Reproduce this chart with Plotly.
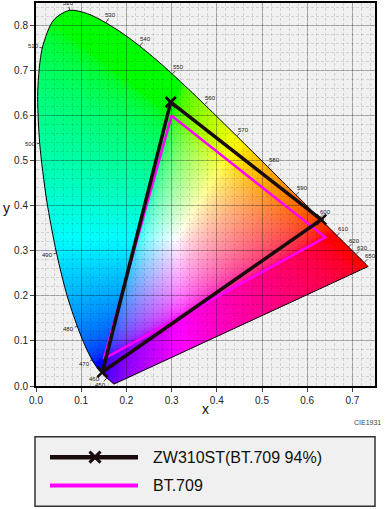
import numpy as np
import plotly.graph_objects as go
import zlib, struct, base64

# ---------------- data ----------------
wavelengths = list(range(380, 705, 5))
locus_x = [0.1741, 0.1740, 0.1738, 0.1736, 0.1733, 0.1730, 0.1726, 0.1721, 0.1714, 0.1703,
           0.1689, 0.1669, 0.1644, 0.1611, 0.1566, 0.1510, 0.1440, 0.1355, 0.1241, 0.1096,
           0.0913, 0.0687, 0.0454, 0.0235, 0.0082, 0.0039, 0.0139, 0.0389, 0.0743, 0.1142,
           0.1547, 0.1929, 0.2296, 0.2658, 0.3016, 0.3373, 0.3731, 0.4087, 0.4441, 0.4788,
           0.5125, 0.5448, 0.5752, 0.6029, 0.6270, 0.6482, 0.6658, 0.6801, 0.6915, 0.7006,
           0.7079, 0.7140, 0.7190, 0.7230, 0.7260, 0.7283, 0.7300, 0.7311, 0.7320, 0.7327,
           0.7334, 0.7340, 0.7344, 0.7346, 0.7347]
locus_y = [0.0050, 0.0050, 0.0049, 0.0049, 0.0048, 0.0048, 0.0048, 0.0048, 0.0051, 0.0058,
           0.0069, 0.0086, 0.0109, 0.0138, 0.0177, 0.0227, 0.0297, 0.0399, 0.0578, 0.0868,
           0.1327, 0.2007, 0.2950, 0.4127, 0.5384, 0.6548, 0.7502, 0.8120, 0.8338, 0.8262,
           0.8059, 0.7816, 0.7543, 0.7243, 0.6923, 0.6589, 0.6245, 0.5896, 0.5547, 0.5202,
           0.4866, 0.4544, 0.4242, 0.3965, 0.3725, 0.3514, 0.3340, 0.3197, 0.3083, 0.2993,
           0.2920, 0.2859, 0.2809, 0.2770, 0.2740, 0.2717, 0.2700, 0.2689, 0.2680, 0.2673,
           0.2666, 0.2660, 0.2656, 0.2654, 0.2653]
label_wavelengths = [450, 460, 470, 480, 490, 500, 510, 520, 530, 540, 550,
                     560, 570, 580, 590, 600, 610, 620, 630, 650]

series_names = ["ZW310ST(BT.709 94%)", "BT.709"]
series_colors = ["#1a0c0c", "#ff00ff"]
zw_x = [0.298, 0.631, 0.147]
zw_y = [0.630, 0.369, 0.031]
bt_x = [0.30, 0.64, 0.15]
bt_y = [0.60, 0.33, 0.06]

x_ticks = [0.0, 0.1, 0.2, 0.3, 0.4, 0.5, 0.6, 0.7]
y_ticks = [0.0, 0.1, 0.2, 0.3, 0.4, 0.5, 0.6, 0.7, 0.8]
XMAX, YMAX = 0.75, 0.85

# ---------------- layout geometry (pixels) ----------------
W, H = 386, 509
L, R, T, B = 36, 375, 1, 386
PW, PH = R - L, B - T


def px2paper(px, py):
    return (px - L) / PW, (B - py) / PH


# ---------------- chromaticity fill image ----------------
def catmull(xs, ys, n=8):
    xs = np.asarray(xs); ys = np.asarray(ys)
    P = np.stack([xs, ys], 1)
    P = np.vstack([P[0], P, P[-1]])
    out = []
    for i in range(1, len(P) - 2):
        p0, p1, p2, p3 = P[i - 1], P[i], P[i + 1], P[i + 2]
        for t in np.linspace(0, 1, n, endpoint=False):
            t2, t3 = t * t, t * t * t
            out.append(0.5 * ((2 * p1) + (-p0 + p2) * t + (2 * p0 - 5 * p1 + 4 * p2 - p3) * t2
                              + (-p0 + 3 * p1 - 3 * p2 + p3) * t3))
    out.append(P[-2])
    out = np.array(out)
    return out[:, 0], out[:, 1]


polyx, polyy = catmull(locus_x, locus_y)
nx, ny = PW, PH
gx = (np.arange(nx) + 0.5) * XMAX / nx
gy = YMAX - (np.arange(ny) + 0.5) * YMAX / ny
XX, YY = np.meshgrid(gx, gy)

inside = np.zeros(XX.shape, bool)
n = len(polyx)
j = n - 1
for i in range(n):
    xi, yi, xj, yj = polyx[i], polyy[i], polyx[j], polyy[j]
    cond = (yi > YY) != (yj > YY)
    denom = (yj - yi) if abs(yj - yi) > 1e-12 else 1e-12
    xint = (xj - xi) * (YY - yi) / denom + xi
    inside ^= cond & (XX < xint)
    j = i

yy = np.maximum(YY, 1e-4)
Xc = XX / yy
Yc = np.ones_like(XX)
Zc = (1 - XX - YY) / yy
M = np.array([[3.2406, -1.5372, -0.4986],
              [-0.9689, 1.8758, 0.0415],
              [0.0557, -0.2040, 1.0570]])
rgb = np.einsum('ij,jhw->hwi', M, np.stack([Xc, Yc, Zc]))
rgb = np.clip(rgb, 0, None)
rgb = rgb / np.maximum(rgb.max(axis=2, keepdims=True), 1e-9)
rgb = np.where(rgb <= 0.0031308, 12.92 * rgb, 1.055 * np.power(rgb, 1 / 2.4) - 0.055)
rgba = np.zeros((ny, nx, 4), np.uint8)
rgba[..., :3] = np.clip(rgb * 255 + 0.5, 0, 255).astype(np.uint8)
rgba[..., 3] = np.where(inside, 255, 0).astype(np.uint8)


def png_bytes(img):
    h, w, _ = img.shape
    raw = b''.join(b'\x00' + img[r].tobytes() for r in range(h))

    def chunk(t, d):
        return struct.pack('>I', len(d)) + t + d + struct.pack('>I', zlib.crc32(t + d) & 0xffffffff)
    return (b'\x89PNG\r\n\x1a\n' + chunk(b'IHDR', struct.pack('>IIBBBBB', w, h, 8, 6, 0, 0, 0))
            + chunk(b'IDAT', zlib.compress(raw, 9)) + chunk(b'IEND', b''))


src = "data:image/png;base64," + base64.b64encode(png_bytes(rgba)).decode()

# ---------------- figure ----------------
fig = go.Figure()

# spectral locus outline
fig.add_trace(go.Scatter(x=locus_x, y=locus_y, mode='lines',
                         line=dict(color='black', width=1, shape='spline', smoothing=0.8),
                         hoverinfo='skip', showlegend=False))
fig.add_trace(go.Scatter(x=[locus_x[-1], locus_x[0]], y=[locus_y[-1], locus_y[0]], mode='lines',
                         line=dict(color='black', width=1), hoverinfo='skip', showlegend=False))

# BT.709
fig.add_trace(go.Scatter(x=bt_x + bt_x[:1], y=bt_y + bt_y[:1], mode='lines',
                         line=dict(color=series_colors[1], width=2.5), name=series_names[1],
                         showlegend=False))
# ZW310ST
fig.add_trace(go.Scatter(x=zw_x + zw_x[:1], y=zw_y + zw_y[:1], mode='lines+markers',
                         line=dict(color=series_colors[0], width=3.5), name=series_names[0],
                         marker=dict(symbol='x-thin', size=10,
                                     line=dict(color=series_colors[0], width=2.5)),
                         showlegend=False))

annotations = []
sx, sy = PW / XMAX, PH / YMAX
wx, wy = 0.3127, 0.329
for wl in label_wavelengths:
    k = wavelengths.index(wl)
    x0, y0 = locus_x[k], locus_y[k]
    tx = (locus_x[k + 1] - locus_x[k - 1]) * sx
    ty = -(locus_y[k + 1] - locus_y[k - 1]) * sy
    nrm = np.hypot(tx, ty)
    nxp, nyp = -ty / nrm, tx / nrm
    # point away from white point (screen coords)
    vx, vy = (x0 - wx) * sx, -(y0 - wy) * sy
    if nxp * vx + nyp * vy < 0:
        nxp, nyp = -nxp, -nyp
    d = 9 if wl != 520 else 7
    annotations.append(dict(x=x0, y=y0, xref='x', yref='y', text=str(wl),
                            showarrow=True, arrowhead=0, arrowwidth=0.8, arrowcolor='#222',
                            ax=nxp * d, ay=nyp * d, standoff=0, borderpad=0,
                            font=dict(size=6, color='#222', family='Arial, Liberation Sans')))

# axis titles and caption
px_, py_ = px2paper(205.5, 409)
annotations.append(dict(x=px_, y=py_, xref='paper', yref='paper', text='x', showarrow=False,
                        xanchor='center', yanchor='middle',
                        font=dict(size=14, color='#111', family='Arial, Liberation Sans')))
px_, py_ = px2paper(6, 207)
annotations.append(dict(x=px_, y=py_, xref='paper', yref='paper', text='y', showarrow=False,
                        xanchor='center', yanchor='middle',
                        font=dict(size=14, color='#111', family='Arial, Liberation Sans')))
px_, py_ = px2paper(383, 423)
annotations.append(dict(x=px_, y=py_, xref='paper', yref='paper', text='CIE1931', showarrow=False,
                        xanchor='right', yanchor='middle',
                        font=dict(size=7, color='#444', family='Arial, Liberation Sans')))

# manual legend
shapes = []
bx0, by0 = px2paper(35, 507)
bx1, by1 = px2paper(375, 437)
shapes.append(dict(type='rect', xref='paper', yref='paper', x0=bx0, y0=by0, x1=bx1, y1=by1,
                   fillcolor='#f0f0f0', line=dict(color='#333', width=1.5), layer='above'))
legend_rows = [457.5, 486]
for idx, (name, col) in enumerate(zip(series_names, series_colors)):
    rowy = legend_rows[idx]
    lx0, ly = px2paper(50, rowy)
    lx1, _ = px2paper(138, rowy)
    shapes.append(dict(type='line', xref='paper', yref='paper', x0=lx0, x1=lx1, y0=ly, y1=ly,
                       line=dict(color=col, width=4.5 if idx == 0 else 4), layer='above'))
    if idx == 0:
        for sgn in (1, -1):
            ax0, ay0 = px2paper(95 - 5.5, rowy - 5.5 * sgn)
            ax1, ay1 = px2paper(95 + 5.5, rowy + 5.5 * sgn)
            shapes.append(dict(type='line', xref='paper', yref='paper', x0=ax0, x1=ax1, y0=ay0, y1=ay1,
                               line=dict(color=col, width=3), layer='above'))
    tx_, ty_ = px2paper(151, rowy)
    annotations.append(dict(x=tx_, y=ty_, xref='paper', yref='paper', text=name, showarrow=False,
                            xanchor='left', yanchor='middle',
                            font=dict(size=16, color='#111', family='Arial, Liberation Sans')))

axis_common = dict(showline=True, mirror=True, linecolor='black', linewidth=2,
                   ticks='outside', ticklen=4, tickcolor='#444', tickwidth=1,
                   showgrid=True, gridcolor='rgba(0,0,0,0.25)', gridwidth=1,
                   zeroline=False, tickformat='.1f',
                   tickfont=dict(size=10, color='#222', family='Arial, Liberation Sans'))
fig.update_xaxes(range=[0, XMAX], tickvals=x_ticks,
                 minor=dict(dtick=0.02, showgrid=True, gridcolor='rgba(0,0,0,0.12)',
                            griddash='3px,2px', gridwidth=1),
                 **axis_common)
fig.update_yaxes(range=[0, YMAX], tickvals=y_ticks,
                 minor=dict(dtick=0.02, showgrid=True, gridcolor='rgba(0,0,0,0.12)',
                            griddash='3px,2px', gridwidth=1),
                 **axis_common)

fig.update_layout(width=W, height=H, autosize=False,
                  margin=dict(l=L, r=W - R, t=T, b=H - B, pad=0),
                  paper_bgcolor='white', plot_bgcolor='#f0f0f0',
                  showlegend=False, annotations=annotations, shapes=shapes,
                  images=[dict(source=src, xref='x', yref='y', x=0, y=YMAX, sizex=XMAX, sizey=YMAX,
                               sizing='stretch', xanchor='left', yanchor='top', layer='below')])

fig.write_html("out.html")
